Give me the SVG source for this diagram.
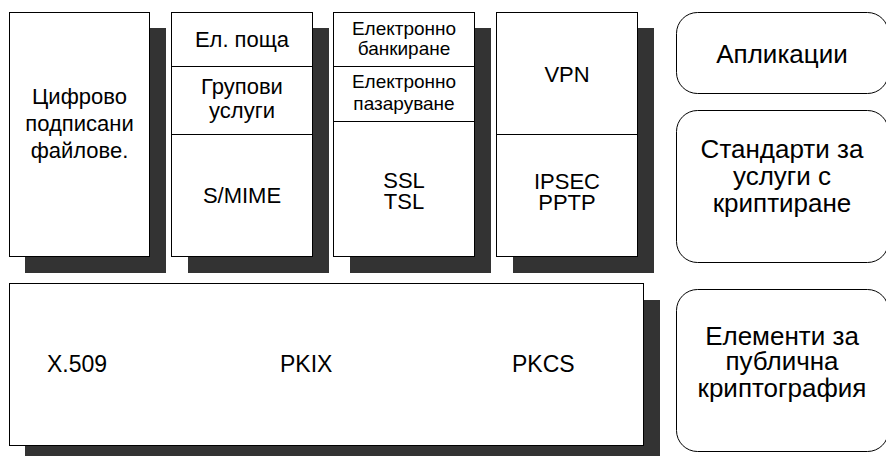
<svg xmlns="http://www.w3.org/2000/svg" width="886" height="456" viewBox="0 0 886 456">
  <style>
    .box { fill: #fff; stroke: #000; stroke-width: 1; }
    .shadow { fill: #333; }
    .div { stroke: #000; stroke-width: 1; }
    .lbl { fill: #000; stroke: none; font-family: "Liberation Sans", Arial, sans-serif; font-size: 22px; text-anchor: middle; }
    .sm { font-size: 19px; }
    .md { font-size: 23px; }
    .lg { font-size: 26px; }
    .start { text-anchor: start; }
    .pill { fill: #fff; stroke: #000; stroke-width: 1; }
  </style>
  <rect width="886" height="456" fill="#fff"/>

  <!-- signed files column -->
  <g id="signed-files">
    <rect class="shadow" x="25" y="28" width="141" height="245"/>
    <rect class="box" x="9.5" y="12.5" width="140" height="244"/>
    <text class="lbl" x="79.5" y="104">Цифрово</text>
    <text class="lbl" x="79.5" y="131">подписани</text>
    <text class="lbl" x="79.5" y="158">файлове.</text>
  </g>

  <!-- mail / S/MIME column -->
  <g id="smime">
    <rect class="shadow" x="188" y="28" width="141" height="245"/>
    <rect class="box" x="171.5" y="12.5" width="141" height="244"/>
    <line class="div" x1="171.5" y1="66.5" x2="312.5" y2="66.5"/>
    <line class="div" x1="171.5" y1="134.5" x2="312.5" y2="134.5"/>
    <text class="lbl" x="242" y="47">Ел. поща</text>
    <text class="lbl" x="242" y="94">Групови</text>
    <text class="lbl" x="242" y="118">услуги</text>
    <text class="lbl" x="242" y="203">S/MIME</text>
  </g>

  <!-- e-commerce / SSL column -->
  <g id="ssl">
    <rect class="shadow" x="350" y="28" width="141" height="245"/>
    <rect class="box" x="333.5" y="12.5" width="141" height="244"/>
    <line class="div" x1="333.5" y1="66.5" x2="474.5" y2="66.5"/>
    <line class="div" x1="333.5" y1="121.5" x2="474.5" y2="121.5"/>
    <text class="lbl sm" x="404" y="35">Електронно</text>
    <text class="lbl sm" x="404" y="55">банкиране</text>
    <text class="lbl sm" x="404" y="88">Електронно</text>
    <text class="lbl sm" x="404" y="110">пазаруване</text>
    <text class="lbl" x="404" y="188">SSL</text>
    <text class="lbl" x="404" y="209">TSL</text>
  </g>

  <!-- VPN column -->
  <g id="vpn">
    <rect class="shadow" x="513" y="28" width="141" height="245"/>
    <rect class="box" x="496.5" y="12.5" width="141" height="244"/>
    <line class="div" x1="496.5" y1="134.5" x2="637.5" y2="134.5"/>
    <text class="lbl" x="567" y="82">VPN</text>
    <text class="lbl" x="567" y="189">IPSEC</text>
    <text class="lbl" x="567" y="210">PPTP</text>
  </g>

  <!-- public-key infrastructure base -->
  <g id="pki-base">
    <rect class="shadow" x="25" y="300" width="635" height="170"/>
    <rect class="box" x="9.5" y="283.5" width="634" height="162"/>
    <text class="lbl md start" x="47" y="372">X.509</text>
    <text class="lbl md start" x="280" y="372">PKIX</text>
    <text class="lbl md start" x="512" y="372">PKCS</text>
  </g>

  <!-- layer captions -->
  <g id="layer-apps">
    <rect class="pill" x="676.5" y="12.5" width="212" height="81" rx="21" ry="21"/>
    <text class="lbl lg" x="782" y="63">Апликации</text>
  </g>
  <g id="layer-standards">
    <rect class="pill" x="676.5" y="110.5" width="212" height="152" rx="21" ry="21"/>
    <text class="lbl lg" x="782" y="158">Стандарти за</text>
    <text class="lbl lg" x="782" y="185">услуги с</text>
    <text class="lbl lg" x="782" y="212">криптиране</text>
  </g>
  <g id="layer-elements">
    <rect class="pill" x="676.5" y="289.5" width="212" height="162" rx="21" ry="21"/>
    <text class="lbl lg" x="782" y="345">Елементи за</text>
    <text class="lbl lg" x="782" y="370">публична</text>
    <text class="lbl lg" x="782" y="397">криптография</text>
  </g>

  <g id="connectors"/>
</svg>
